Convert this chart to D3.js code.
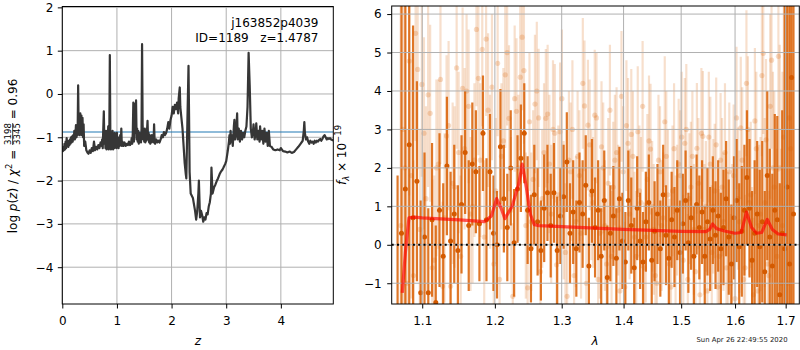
<!DOCTYPE html>
<html><head><meta charset="utf-8">
<script src="https://cdn.jsdelivr.net/npm/d3@7"></script>
<style>
html,body{margin:0;padding:0;background:#fff;}
svg{display:block;font-family:"DejaVu Sans",sans-serif;}
</style></head>
<body><svg id="c" width="800" height="350"></svg>
<script>
// ---------------- DATA ----------------
const zTicks = [0, 1, 2, 3, 4];
const pzTicks = [-4, -3, -2, -1, 0, 1, 2];
const lamTicks = [1.1, 1.2, 1.3, 1.4, 1.5, 1.6, 1.7];
const fluxTicks = [-1, 0, 1, 2, 3, 4, 5, 6];

const zGrid = [
0.00,0.01,0.02,0.03,0.04,0.05,0.06,0.07,0.08,0.09,
0.10,0.11,0.12,0.13,0.14,0.15,0.16,0.17,0.18,0.19,
0.20,0.21,0.22,0.23,0.24,0.25,0.26,0.27,0.28,0.29,
0.30,0.31,0.32,0.33,0.34,0.35,0.36,0.37,0.38,0.39,
0.40,0.42,0.44,0.46,0.48,0.50,0.52,0.54,0.56,0.58,
0.60,0.62,0.64,0.66,0.68,0.70,0.72,0.73,0.74,0.75,
0.76,0.77,0.78,0.79,0.80,0.81,0.82,0.83,0.84,0.85,
0.86,0.87,0.88,0.89,0.90,0.91,0.92,0.93,0.94,0.95,
0.96,0.97,0.98,0.99,1.00,1.01,1.02,1.03,1.04,1.05,
1.06,1.07,1.08,1.09,1.10,1.12,1.14,1.16,1.18,1.20,
1.22,1.24,1.26,1.27,1.28,1.29,1.30,1.31,1.32,1.33,
1.34,1.35,1.36,1.37,1.38,1.39,1.40,1.41,1.42,1.43,
1.44,1.45,1.46,1.47,1.48,1.49,1.50,1.51,1.52,1.53,
1.54,1.55,1.56,1.57,1.58,1.59,1.60,1.61,1.62,1.63,
1.64,1.65,1.66,1.67,1.68,1.69,1.70,1.72,1.74,1.76,
1.78,1.80,1.82,1.84,1.86,1.88,1.90,1.92,1.94,1.96,
1.98,2.00,2.02,2.04,2.06,2.08,2.10,2.12,2.13,2.15,
2.16,2.18,2.20,2.22,2.24,2.26,2.27,2.29,2.31,2.32,
2.33,2.35,2.37,2.39,2.41,2.43,2.45,2.47,2.49,2.50,
2.52,2.54,2.56,2.58,2.60,2.62,2.64,2.66,2.68,2.70,
2.72,2.73,2.75,2.78,2.80,2.83,2.85,2.88,2.90,2.93,
2.95,2.98,3.00,3.03,3.05,3.06,3.07,3.08,3.09,3.10,
3.12,3.14,3.15,3.16,3.18,3.20,3.21,3.23,3.25,3.27,
3.29,3.31,3.33,3.35,3.37,3.39,3.41,3.43,3.45,3.47,
3.49,3.50,3.52,3.54,3.55,3.57,3.59,3.61,3.62,3.64,
3.66,3.68,3.70,3.72,3.74,3.76,3.78,3.80,3.83,3.86,
3.90,3.94,3.98,4.00,4.04,4.08,4.12,4.16,4.20,4.24,
4.28,4.32,4.36,4.40,4.42,4.43,4.44,4.46,4.48,4.50,
4.52,4.54,4.56,4.58,4.60,4.62,4.64,4.66,4.68,4.70,
4.72,4.74,4.76,4.78,4.80,4.82,4.84,4.86,4.88,4.90,
4.92,4.94,4.96];
const logPz = [
-1.25,-1.32,-1.22,-1.30,-1.15,-1.28,-1.10,-1.25,-1.02,-1.20,
-1.12,-1.22,-1.08,-1.18,-1.05,-1.15,-1.00,-1.12,-0.98,-1.10,
-0.95,-1.05,-0.85,-1.05,-0.95,-0.72,-1.00,-0.78,-0.95,0.20,
-0.85,-0.60,-0.95,-0.45,-0.90,-0.50,-0.95,-0.55,-1.00,-0.70,
-1.20,-1.10,-1.30,-1.35,-1.38,-1.30,-1.36,-1.25,-1.32,-1.10,
-1.30,-1.22,-1.28,-1.18,-1.25,-1.12,-1.20,-1.05,-1.25,-0.80,
-0.40,-1.15,-0.90,-1.25,-0.85,-1.28,-0.95,-1.25,-0.75,-1.28,
-1.00,0.90,-1.10,-1.28,-0.95,-1.25,-0.85,-1.28,-1.00,-1.25,
-0.90,-1.22,-0.95,-1.25,-0.90,-1.20,-1.00,-1.25,-1.05,-1.20,
-0.95,-1.15,-0.80,-1.20,-1.10,-1.20,-1.12,-1.20,-1.15,-1.18,
-1.10,-1.18,-1.12,-1.02,-1.15,-0.90,-0.20,-1.10,-0.80,-0.22,
-0.90,-0.15,-1.05,-0.80,-1.10,-0.85,-1.15,-0.90,-1.10,-0.95,
-1.12,-0.80,1.15,-0.70,-1.05,-0.85,-1.10,-0.80,-1.12,-0.95,
-1.08,-0.85,-0.62,-1.05,-0.90,-1.12,-0.95,-1.15,-0.98,-1.12,
-0.95,-1.10,-1.00,-1.12,-0.70,-1.10,-1.15,-1.05,-1.12,-1.08,
-1.12,-1.05,-0.95,-1.00,-0.88,-0.95,-0.90,-0.80,-0.65,-0.80,
-0.60,-0.50,-0.30,-0.45,-0.25,-0.35,-0.20,-0.45,-0.10,0.15,
-0.30,-0.55,-0.80,-1.20,-1.60,-1.85,-1.95,-0.60,0.65,-0.50,
-1.80,-2.30,-2.35,-2.40,-2.55,-2.70,-2.90,-2.70,-2.30,-2.00,
-2.85,-2.70,-2.80,-2.95,-2.85,-2.90,-2.75,-2.78,-2.60,-2.50,
-2.30,-1.70,-2.30,-2.15,-2.10,-2.00,-1.95,-1.85,-1.80,-1.75,
-1.70,-1.62,-1.55,-1.30,-1.10,-0.95,-1.15,-0.85,-1.10,-0.95,
-1.20,-0.75,-0.60,-1.05,-0.90,-0.45,-1.05,-0.80,-1.10,-0.85,
-1.05,-0.90,-1.00,-0.85,-0.75,-0.30,0.95,0.20,-0.80,-1.00,
-0.85,-0.70,-1.05,-0.90,-0.68,-1.05,-0.85,-1.10,-0.75,-1.05,
-0.85,-1.15,-0.80,-1.10,-0.90,-1.20,-0.85,-1.20,-1.22,-1.28,
-1.30,-1.28,-1.30,-1.25,-1.32,-1.33,-1.35,-1.33,-1.36,-1.34,
-1.28,-1.22,-1.15,-1.08,-0.85,-0.65,-0.90,-1.05,-1.00,-1.10,
-1.15,-1.08,-1.12,-1.10,-1.15,-1.08,-1.12,-1.08,-1.10,-1.06,
-1.04,-1.08,-1.04,-0.98,-0.95,-1.00,-1.05,-1.02,-1.04,-1.02,
-1.05,-1.06,-1.08];
const chi2Level = -0.88;

// spectrum, strong orange
const lamA = [1.068,1.073,1.078,1.083,1.088,1.093,1.098,1.103,1.108,1.113,1.118,1.123,1.128,1.133,1.138,1.143,1.148,1.153,1.158,1.163,1.168,1.173,1.178,1.183,1.188,1.193,1.198,1.203,1.208,1.213,1.218,1.223,1.228,1.233,1.238,1.243,1.248,1.253,1.258,1.263,1.268,1.273,1.278,1.283,1.288,1.293,1.298,1.303,1.308,1.313,1.318,1.323,1.328,1.333,1.338,1.343,1.348,1.353,1.358,1.363,1.368,1.373,1.378,1.383,1.388,1.393,1.398,1.403,1.408,1.413,1.418,1.423,1.428,1.433,1.438,1.443,1.448,1.453,1.458,1.463,1.468,1.473,1.478,1.483,1.488,1.493,1.498,1.503,1.508,1.513,1.518,1.523,1.528,1.533,1.538,1.543,1.548,1.553,1.558,1.563,1.568,1.573,1.578,1.583,1.588,1.593,1.598,1.603,1.608,1.613,1.618,1.623,1.628,1.633,1.638,1.643,1.648,1.653,1.658,1.663,1.668,1.673,1.678,1.683,1.688,1.693,1.698,1.703,1.708,1.712,1.716];
const fluxA = [-3.0,0.3,1.45,2.6,0.7,1.65,-1.25,0.2,-1.25,0.65,-1.5,0.9,-0.3,2.05,0.1,0.8,-0.15,1.05,2.4,0.5,2.1,1.9,0.55,2.9,0.65,1.9,0.3,0.0,2.55,1.2,0.45,2.0,0.05,1.45,2.25,2.9,0.9,-0.1,1.3,0.6,-0.15,0.95,1.35,0.5,1.35,-0.15,0.75,1.25,2.15,0.3,0.85,-0.1,1.1,0.8,1.55,-0.55,1.4,0.45,0.9,-0.3,1.15,-0.85,0.3,0.75,-0.35,1.2,0.1,-0.45,1.15,0.5,-0.6,0.95,0.1,-0.45,0.6,1.1,-0.4,0.35,0.8,-0.1,1.3,0.25,-0.35,0.65,0.2,0.9,-0.2,0.55,1.15,0.05,0.7,-0.3,1.05,0.45,0.85,-0.3,0.6,0.15,0.9,0.25,0.75,-0.1,0.45,1.2,0.2,-0.5,0.7,1.15,-0.05,0.35,0.9,1.75,0.95,-0.4,0.3,0.8,-0.05,0.6,-0.7,1.8,0.2,-0.55,0.9,0.65,-1.3,0.3,-0.1,1.5,-0.5,4.35,0.8];
const errA = [4.8,9,9,9,5,2.6,2.4,2.2,2.2,2.0,
2.0,2.0,1.9,1.8,1.8,1.8,1.7,1.8,1.6,1.7,
1.6,1.6,1.5,1.5,1.6,1.5,1.5,1.4,1.5,1.4,
1.4,1.5,1.4,1.4,1.4,1.3,1.4,1.4,1.3,1.4,
1.3,1.4,1.25,1.35,1.3,1.4,1.25,1.35,1.3,1.3,
1.35,1.25,1.3,1.4,1.3,1.25,1.35,1.3,1.3,1.25,
1.3,1.35,1.25,1.3,1.3,1.35,1.25,1.3,1.3,1.25,
1.3,1.35,1.25,1.3,1.3,1.25,1.35,1.3,1.3,1.25,
1.3,1.3,1.35,1.25,1.3,1.3,1.35,1.3,1.3,1.3,
1.35,1.3,1.3,1.35,1.35,1.3,1.4,1.35,1.4,1.4,
1.45,1.45,1.5,1.5,1.5,1.55,1.6,1.6,1.65,1.7,
1.7,1.75,1.8,1.8,1.9,1.9,2.0,2.1,2.1,2.2,
2.3,2.4,2.5,2.7,2.9,3.2,9,9,9,9,9];

// spectrum, faint orange (two interleaved sample sets)
const lamB = [1.0720,1.0775,1.0830,1.0885,1.0940,1.0995,1.1050,1.1105,1.1160,1.1215,1.1270,1.1325,1.1380,1.1435,1.1490,1.1545,1.1600,1.1655,1.1710,1.1765,1.1820,1.1875,1.1930,1.1985,1.2040,1.2095,1.2150,1.2205,1.2260,1.2315,1.2370,1.2425,1.2480,1.2535,1.2590,1.2645,1.2700,1.2755,1.2810,1.2865,1.2920,1.2975,1.3030,1.3085,1.3140,1.3195,1.3250,1.3305,1.3360,1.3415,1.3470,1.3525,1.3580,1.3635,1.3690,1.3745,1.3800,1.3855,1.3910,1.3965,1.4020,1.4075,1.4130,1.4185,1.4240,1.4295,1.4350,1.4405,1.4460,1.4515,1.4570,1.4625,1.4680,1.4735,1.4790,1.4845,1.4900,1.4955,1.5010,1.5065,1.5120,1.5175,1.5230,1.5285,1.5340,1.5395,1.5450,1.5505,1.5560,1.5615,1.5670,1.5725,1.5780,1.5835,1.5890,1.5945,1.6000,1.6055,1.6110,1.6165,1.6220,1.6275,1.6330,1.6385,1.6440,1.6495,1.6550,1.6605,1.6660,1.6715,1.6770,1.6825,1.6880,1.6935,1.6990,1.7045,1.7100];
const fluxB = [0.5,2.0,4.78,-0.8,4.56,4.17,1.2,3.42,-0.4,2.1,-1.08,2.83,-1.08,1.5,2.4,4.07,4.0,0.8,2.2,4.33,5.08,5.35,1.9,-0.5,4.72,2.3,4.42,3.29,-1.34,3.47,4.36,4.53,-1.12,0.6,3.66,3.3,1.2,3.29,2.1,3.0,-0.52,2.94,0.9,-1.34,1.9,-0.8,2.3,0.3,3.61,3.11,1.3,3.37,-0.9,2.55,0.5,1.6,-0.3,2.2,0.9,3.86,-1.1,2.64,2.87,0.2,2.94,1.1,-0.6,1.7,2.49,0.4,-1.0,1.9,0.7,2.3,-0.5,1.4,0.1,2.1,2.80,2.64,-0.9,1.5,0.4,2.51,-1.3,2.82,1.0,2.8,-0.2,1.4,-1.1,2.2,0.6,-0.6,1.9,0.3,-1.4,1.2,3.04,-0.9,4.2,1.1,-0.4,3.22,-1.2,0.8,4.98,2.73,-0.8,4.8,1.5,-0.3,2.0,0.5,1.0,-1.0,2.5];
const errB = [9,9,3.5,3.0,2.6,2.4,2.4,2.3,2.2,2.2,2.2,2.1,2.1,2.1,2.1,2.1,2.0,2.0,2.0,2.0,2.0,2.0,2.0,1.9,1.9,1.9,1.9,1.9,1.9,1.9,1.9,1.9,1.9,1.8,1.8,1.8,1.8,1.8,1.8,1.8,1.8,1.8,1.8,1.8,1.8,1.7,1.7,1.7,1.7,1.7,1.7,1.7,1.7,1.7,1.7,1.7,1.7,1.7,1.7,1.7,1.7,1.7,1.7,1.7,1.7,1.7,1.7,1.7,1.7,1.7,1.7,1.7,1.7,1.7,1.7,1.7,1.7,1.7,1.7,1.7,1.7,1.7,1.7,1.7,1.7,1.7,1.7,1.7,1.75,1.75,1.75,1.75,1.8,1.8,1.8,1.8,1.8,1.85,1.85,1.85,1.9,1.9,1.9,1.9,2.0,2.0,2.1,2.1,2.2,2.3,2.5,2.8,3.2,4,9,9,9];
const lamD = [1.0748,1.0803,1.0858,1.0913,1.0968,1.1023,1.1078,1.1133,1.1188,1.1243,
1.1298,1.1353,1.1408,1.1463,1.1518,1.1573,1.1628,1.1683,1.1738,1.1793,
1.1848,1.1903,1.1958,1.2013,1.2068,1.2123,1.2178,1.2233,1.2288,1.2343,
1.2398,1.2453,1.2508,1.2563,1.2618,1.2673,1.2728,1.2783,1.2838,1.2893,
1.2948,1.3003,1.3058,1.3113,1.3168,1.3223,1.3278,1.3333,1.3388,1.3443,
1.3498,1.3553,1.3608,1.3663,1.3718,1.3773,1.3828,1.3883,1.3938,1.3993,
1.4048,1.4103,1.4158,1.4213,1.4268,1.4323,1.4378,1.4433,1.4488,1.4543,
1.4598,1.4653,1.4708,1.4763,1.4818,1.4873,1.4928,1.4983,1.5038,1.5093,
1.5148,1.5203,1.5258,1.5313,1.5368,1.5423,1.5478,1.5533,1.5588,1.5643,
1.5698,1.5753,1.5808,1.5863,1.5918,1.5973,1.6028,1.6083,1.6138,1.6193,
1.6248,1.6303,1.6358,1.6413,1.6468,1.6523,1.6578,1.6633,1.6688,1.6743,
1.6798,1.6853,1.6908,1.6963,1.7018,1.7073];
const fluxD = [3.0,-1.0,1.8,5.5,0.4,2.9,3.9,-0.6,2.0,4.3,
0.7,3.1,1.6,4.6,-0.3,2.5,3.6,1.0,5.6,2.2,
0.2,3.5,4.1,1.4,-0.9,2.7,5.0,0.9,3.8,2.0,
5.4,0.5,3.2,1.7,4.0,-0.7,2.4,3.4,0.8,2.9,
1.3,3.8,-0.2,2.2,3.0,0.6,1.8,4.2,-1.0,2.6,
1.1,3.3,0.3,2.0,-0.5,3.5,1.5,2.4,-1.2,1.9,
3.1,0.8,2.3,-0.3,1.4,3.6,0.2,2.7,1.0,-0.8,
2.2,0.5,3.2,1.3,-1.1,2.5,0.9,1.8,-0.4,3.0,
1.2,2.3,-0.7,1.6,2.9,0.4,-1.2,2.1,1.0,2.6,
-0.3,1.5,2.4,0.1,-1.0,1.8,3.3,0.6,2.2,-0.6,
3.0,1.3,-1.3,2.5,0.5,4.4,1.1,-0.5,3.6,2.0,
0.3,4.9,-1.0,2.8,1.5,3.3];
const errD = [9,4,3.2,2.8,2.6,2.5,2.4,2.3,2.3,2.2,
2.2,2.2,2.1,2.1,2.1,2.1,2.0,2.0,2.0,2.0,
2.0,2.0,1.9,1.9,1.9,1.9,1.9,1.9,1.9,1.9,
1.9,1.9,1.8,1.8,1.8,1.8,1.8,1.8,1.8,1.8,
1.8,1.8,1.8,1.8,1.8,1.7,1.7,1.7,1.7,1.7,
1.7,1.7,1.7,1.7,1.7,1.7,1.7,1.7,1.7,1.7,
1.7,1.7,1.7,1.7,1.7,1.7,1.7,1.7,1.7,1.7,
1.7,1.7,1.7,1.7,1.7,1.7,1.7,1.7,1.7,1.7,
1.7,1.7,1.7,1.7,1.7,1.7,1.7,1.75,1.75,1.75,
1.75,1.8,1.8,1.8,1.8,1.85,1.85,1.85,1.9,1.9,
1.9,1.9,2.0,2.0,2.1,2.1,2.2,2.3,2.4,2.5,
2.7,3.0,3.5,9,9,9];

// best-fit model
const lamModel = [1.074,1.078,1.0826,1.09,1.10,1.15,1.185,1.195,1.2025,1.209,1.2145,1.225,1.235,1.240,1.246,1.252,1.258,1.265,1.30,1.40,1.50,1.545,1.552,1.5575,1.565,1.58,1.60,1.612,1.622,1.632,1.642,1.652,1.663,1.673,1.685,1.702];
const fluxModel = [-1.25,-0.2,0.70,0.72,0.70,0.65,0.60,0.75,1.20,0.95,0.68,1.0,1.6,2.1,1.5,0.8,0.52,0.50,0.47,0.40,0.35,0.34,0.40,0.54,0.42,0.36,0.30,0.32,0.85,0.45,0.30,0.32,0.66,0.40,0.28,0.26];

// ---------------- DRAW ----------------
const svg = d3.select('#c');
const minus = s => String(s).replace('-', '\u2212');
const GRID = '#b0b0b0';
const FS = 12;
const zip3 = (l, v, e) => d3.range(Math.min(l.length, v.length, e.length)).map(i => ({l: l[i], v: v[i], e: e[i]}));
function styleAxis(a) {
  a.select('.domain').remove();
  a.selectAll('text').attr('font-size', FS).attr('fill', '#000').attr('font-family', 'DejaVu Sans');
  a.selectAll('line').attr('stroke', '#000');
}

// LEFT PANEL
const L = {x0: 62.3, x1: 333.3, y0: 6.5, y1: 304};
const xL = d3.scaleLinear().domain([0, 4.96]).range([L.x0, L.x1]);
const yL = d3.scaleLinear().domain([-4.85, 2.02]).range([L.y1, L.y0]);

const gL = svg.append('g');
gL.append('g').selectAll('line').data(zTicks).join('line')
  .attr('x1', d => xL(d)).attr('x2', d => xL(d)).attr('y1', L.y0).attr('y2', L.y1)
  .attr('stroke', GRID).attr('stroke-width', 1);
gL.append('g').selectAll('line').data(pzTicks).join('line')
  .attr('y1', d => yL(d)).attr('y2', d => yL(d)).attr('x1', L.x0).attr('x2', L.x1)
  .attr('stroke', GRID).attr('stroke-width', 1);

svg.append('clipPath').attr('id', 'clipL').append('rect')
  .attr('x', L.x0).attr('y', L.y0).attr('width', L.x1 - L.x0).attr('height', L.y1 - L.y0);
const gLd = gL.append('g').attr('clip-path', 'url(#clipL)');
gLd.append('line').attr('x1', L.x0).attr('x2', L.x1)
  .attr('y1', yL(chi2Level)).attr('y2', yL(chi2Level))
  .attr('stroke', '#1f77b4').attr('stroke-opacity', 0.5).attr('stroke-width', 2);
const nZ = Math.min(zGrid.length, logPz.length);
gLd.append('path').datum(d3.range(nZ).map(i => [zGrid[i], logPz[i]]))
  .attr('d', d3.line().x(d => xL(d[0])).y(d => yL(d[1])))
  .attr('fill', 'none').attr('stroke', '#363636').attr('stroke-width', 2.2).attr('stroke-linejoin', 'round');

gL.append('rect').attr('x', L.x0).attr('y', L.y0).attr('width', L.x1 - L.x0).attr('height', L.y1 - L.y0)
  .attr('fill', 'none').attr('stroke', '#000').attr('stroke-width', 1);

styleAxis(gL.append('g').attr('transform', `translate(${L.x0},0)`)
  .call(d3.axisLeft(yL).tickValues(pzTicks).tickSize(4.5).tickPadding(4.5).tickFormat(minus)));
styleAxis(gL.append('g').attr('transform', `translate(0,${L.y1})`)
  .call(d3.axisBottom(xL).tickValues(zTicks).tickSize(4.5).tickPadding(7.5).tickFormat(minus)));

gL.append('text').attr('x', 318.5).attr('y', 27).attr('text-anchor', 'end')
  .attr('font-size', FS).text('j163852p4039');
gL.append('text').attr('x', 318.5).attr('y', 41.5).attr('text-anchor', 'end')
  .attr('font-size', FS).attr('xml:space', 'preserve').text('ID=1189   z=1.4787');

gL.append('text').attr('x', xL(2.48)).attr('y', 345).attr('text-anchor', 'middle')
  .attr('font-size', FS).attr('font-style', 'italic').text('z');

const yLab = gL.append('g');
const yl1 = yLab.append('text').attr('font-size', FS).attr('x', 0).attr('y', 0);
yl1.append('tspan').text('log ');
yl1.append('tspan').attr('font-style', 'italic').text('p');
yl1.append('tspan').text('(');
yl1.append('tspan').attr('font-style', 'italic').text('z');
yl1.append('tspan').attr('xml:space', 'preserve').text(') / ');
yl1.append('tspan').attr('font-style', 'italic').text('\u03c7');
yl1.append('tspan').attr('font-size', 8.5).attr('dy', -5).text('2');
yl1.append('tspan').attr('dy', 5).attr('xml:space', 'preserve').text(' = ');
const w1 = yl1.node().getComputedTextLength();
const fr = yLab.append('g').attr('transform', `translate(${w1 + 1},0)`);
const num = fr.append('text').attr('font-size', 8.6).attr('x', 0).attr('y', -5.9).text('3198');
const fw = num.node().getComputedTextLength();
fr.append('text').attr('font-size', 8.6).attr('x', 0).attr('y', 3.4).text('3345');
fr.append('line').attr('x1', 0).attr('x2', fw).attr('y1', -4.3).attr('y2', -4.3)
  .attr('stroke', '#000').attr('stroke-width', 0.8);
const yl3 = yLab.append('text').attr('font-size', FS).attr('x', w1 + fw + 1).attr('y', 0)
  .attr('xml:space', 'preserve').text(' = 0.96');
const wTot = w1 + fw + 1 + yl3.node().getComputedTextLength();
yLab.attr('transform', `translate(17,${156 + wTot / 2}) rotate(-90)`);

// RIGHT PANEL
const R = {x0: 391.7, x1: 799.3, y0: 6, y1: 304};
const xR = d3.scaleLog().domain([1.0605, 1.728]).range([R.x0, R.x1]);
const yR = d3.scaleLinear().domain([-1.54, 6.21]).range([R.y1, R.y0]);

svg.append('clipPath').attr('id', 'clipR').append('rect')
  .attr('x', R.x0).attr('y', R.y0).attr('width', R.x1 - R.x0).attr('height', R.y1 - R.y0);
const gR = svg.append('g');
const gRd = gR.append('g').attr('clip-path', 'url(#clipR)');

const ORANGE = '#d95f02';
const faint = zip3(lamB, fluxB, errB).concat(zip3(lamD, fluxD, errD));
const strong = zip3(lamA, fluxA, errA);

gRd.append('g').selectAll('line').data(faint).join('line')
  .attr('x1', d => xR(d.l)).attr('x2', d => xR(d.l))
  .attr('y1', d => yR(d.v - d.e)).attr('y2', d => yR(d.v + d.e))
  .attr('stroke', ORANGE).attr('stroke-opacity', 0.2).attr('stroke-width', 2.2);
gRd.append('g').selectAll('circle').data(faint).join('circle')
  .attr('cx', d => xR(d.l)).attr('cy', d => yR(d.v)).attr('r', 2.6)
  .attr('fill', ORANGE).attr('fill-opacity', 0.22);

gRd.append('g').selectAll('line').data(strong).join('line')
  .attr('x1', d => xR(d.l)).attr('x2', d => xR(d.l))
  .attr('y1', d => yR(d.v - d.e)).attr('y2', d => yR(d.v + d.e))
  .attr('stroke', ORANGE).attr('stroke-opacity', 0.85).attr('stroke-width', 2.2);
gRd.append('g').selectAll('circle').data(strong).join('circle')
  .attr('cx', d => xR(d.l)).attr('cy', d => yR(d.v)).attr('r', 2.5)
  .attr('fill', '#d45a00');

gR.append('g').selectAll('line').data(lamTicks).join('line')
  .attr('x1', d => xR(d)).attr('x2', d => xR(d)).attr('y1', R.y0).attr('y2', R.y1)
  .attr('stroke', GRID).attr('stroke-width', 1);
gR.append('g').selectAll('line').data(fluxTicks).join('line')
  .attr('y1', d => yR(d)).attr('y2', d => yR(d)).attr('x1', R.x0).attr('x2', R.x1)
  .attr('stroke', GRID).attr('stroke-width', 1);

gR.append('line').attr('x1', R.x0).attr('x2', R.x1).attr('y1', yR(0)).attr('y2', yR(0))
  .attr('stroke', '#000').attr('stroke-width', 2).attr('stroke-dasharray', '2,3.3');

gR.append('g').attr('clip-path', 'url(#clipR)').append('path')
  .datum(lamModel.map((l, i) => [l, fluxModel[i]]))
  .attr('d', d3.line().x(d => xR(d[0])).y(d => yR(d[1])))
  .attr('fill', 'none').attr('stroke', '#ff0000').attr('stroke-opacity', 0.65)
  .attr('stroke-width', 3.2).attr('stroke-linejoin', 'round');

gR.append('rect').attr('x', R.x0).attr('y', R.y0).attr('width', R.x1 - R.x0).attr('height', R.y1 - R.y0)
  .attr('fill', 'none').attr('stroke', '#000').attr('stroke-width', 1);

styleAxis(gR.append('g').attr('transform', `translate(${R.x0},0)`)
  .call(d3.axisLeft(yR).tickValues(fluxTicks).tickSize(4.5).tickPadding(5.5).tickFormat(minus)));
styleAxis(gR.append('g').attr('transform', `translate(0,${R.y1})`)
  .call(d3.axisBottom(xR).tickValues(lamTicks).tickSize(4.5).tickPadding(7.5).tickFormat(d3.format('.1f'))));

gR.append('text').attr('x', 595).attr('y', 345).attr('text-anchor', 'middle')
  .attr('font-size', FS).attr('font-style', 'italic').text('\u03bb');

const yRl = gR.append('text').attr('font-size', FS).attr('text-anchor', 'middle')
  .attr('transform', 'translate(345.5,155) rotate(-90)');
yRl.append('tspan').attr('font-style', 'italic').text('f');
yRl.append('tspan').attr('font-style', 'italic').attr('font-size', 8.5).attr('dy', 3).text('\u03bb');
yRl.append('tspan').attr('dy', -3).attr('xml:space', 'preserve').text(' \u00d7 10');
yRl.append('tspan').attr('font-size', 8.5).attr('dy', -5).text('\u221219');

svg.append('text').attr('x', 742).attr('y', 342).attr('text-anchor', 'middle')
  .attr('font-size', 6.9).attr('fill', '#222').text('Sun Apr 26 22:49:55 2020');
</script></body></html>
